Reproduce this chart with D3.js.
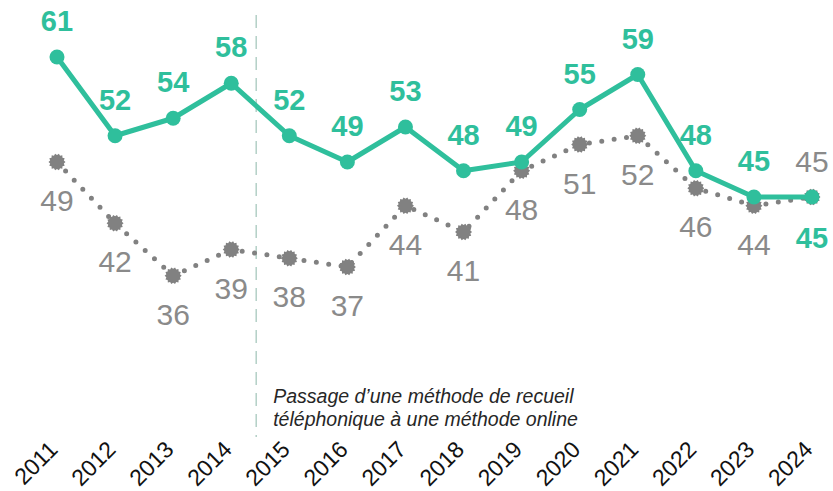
<!DOCTYPE html>
<html>
<head>
<meta charset="utf-8">
<script src="https://cdn.jsdelivr.net/npm/d3@7"></script>
<style>
  html, body { margin: 0; padding: 0; background: #fff; }
  svg { display: block; font-family: "Liberation Sans", Arial, sans-serif; }
</style>
</head>
<body>
<svg id="chart" width="833" height="491"></svg>
<script>
// Years on the x axis
const years = ["2011","2012","2013","2014","2015","2016","2017","2018","2019","2020","2021","2022","2023","2024"];
// Main series (green)
const mainValues = [61, 52, 54, 58, 52, 49, 53, 48, 49, 55, 59, 48, 45, 45];
// Comparison series (grey, dotted)
const compareValues = [49, 42, 36, 39, 38, 37, 44, 41, 48, 51, 52, 46, 44, 45];
// Method change note
const noteLines = ["Passage d\u2019une méthode de recueil", "téléphonique à une méthode online"];
const breakBetween = ["2014", "2015"];

const W = 833, H = 491;
const green = "#2fbf9c";
const grey = "#818181";
const greyText = "#8a8a8a";

const svg = d3.select("#chart");

const x = d3.scalePoint().domain(years).range([57, 812]);
const y = d3.scaleLinear().domain([45, 61]).range([197, 57]);

// Vertical dashed separator between the two collection methods
const sepX = x(breakBetween[0]) + (x(breakBetween[1]) - x(breakBetween[0])) * 0.43;
svg.append("line")
  .attr("x1", sepX).attr("x2", sepX)
  .attr("y1", 15).attr("y2", 437)
  .attr("stroke", "#b3cfc6")
  .attr("stroke-width", 1.5)
  .attr("stroke-dasharray", "13 8");

// Note text
svg.append("g")
  .selectAll("text")
  .data(noteLines)
  .join("text")
  .attr("x", sepX + 17)
  .attr("y", (d, i) => 403 + i * 23)
  .attr("font-size", 19.5)
  .attr("font-style", "italic")
  .attr("fill", "#262626")
  .text(d => d);

// X axis labels (rotated)
const xAxis = d3.axisBottom(x).tickSize(0).tickPadding(0);
const axisG = svg.append("g").call(xAxis);
axisG.select(".domain").remove();
axisG.selectAll(".tick").attr("transform", d => `translate(${x(d) + 2},451)`);
axisG.selectAll(".tick text")
  .attr("x", 0).attr("y", 0).attr("dy", 0)
  .attr("transform", "rotate(-45)")
  .attr("text-anchor", "end")
  .attr("font-size", 23)
  .attr("font-family", "Liberation Sans, Arial, sans-serif")
  .attr("fill", "#111");

// Grey dotted line
const line = d3.line().x((d, i) => x(years[i])).y(d => y(d));
svg.append("path")
  .datum(compareValues)
  .attr("d", line)
  .attr("fill", "none")
  .attr("stroke", grey)
  .attr("stroke-width", 5)
  .attr("stroke-linecap", "round")
  .attr("stroke-dasharray", "0 12.5");

// Grey gear-shaped markers
function gearPath(r1, r2, n) {
  const pts = [];
  for (let k = 0; k < n * 2; k++) {
    const a = (Math.PI * k) / n;
    const r = k % 2 === 0 ? r1 : r2;
    pts.push([r * Math.cos(a), r * Math.sin(a)]);
  }
  return d3.line().curve(d3.curveLinearClosed)(pts);
}
const gear = gearPath(8.5, 7, 14);
svg.append("g")
  .selectAll("path")
  .data(compareValues)
  .join("path")
  .attr("transform", (d, i) => `translate(${x(years[i])},${y(d)})`)
  .attr("d", gear)
  .attr("fill", grey);

// Green line
svg.append("path")
  .datum(mainValues)
  .attr("d", line)
  .attr("fill", "none")
  .attr("stroke", green)
  .attr("stroke-width", 5)
  .attr("stroke-linejoin", "round");

svg.append("g")
  .selectAll("circle")
  .data(mainValues)
  .join("circle")
  .attr("cx", (d, i) => x(years[i]))
  .attr("cy", d => y(d))
  .attr("r", 7.5)
  .attr("fill", green);

// Grey value labels (below, except last which sits above)
const lastIdx = years.length - 1;
svg.append("g")
  .selectAll("text")
  .data(compareValues)
  .join("text")
  .attr("x", (d, i) => x(years[i]))
  .attr("y", (d, i) => i === lastIdx ? y(d) - 25 : y(d) + 49)
  .attr("text-anchor", "middle")
  .attr("font-size", 30)
  .attr("fill", greyText)
  .text(d => d);

// Green value labels (above, except last which sits below)
svg.append("g")
  .selectAll("text")
  .data(mainValues)
  .join("text")
  .attr("x", (d, i) => x(years[i]))
  .attr("y", (d, i) => i === lastIdx ? y(d) + 51 : y(d) - 26)
  .attr("text-anchor", "middle")
  .attr("font-size", 29)
  .attr("font-weight", "bold")
  .attr("fill", green)
  .text(d => d);
</script>
</body>
</html>
